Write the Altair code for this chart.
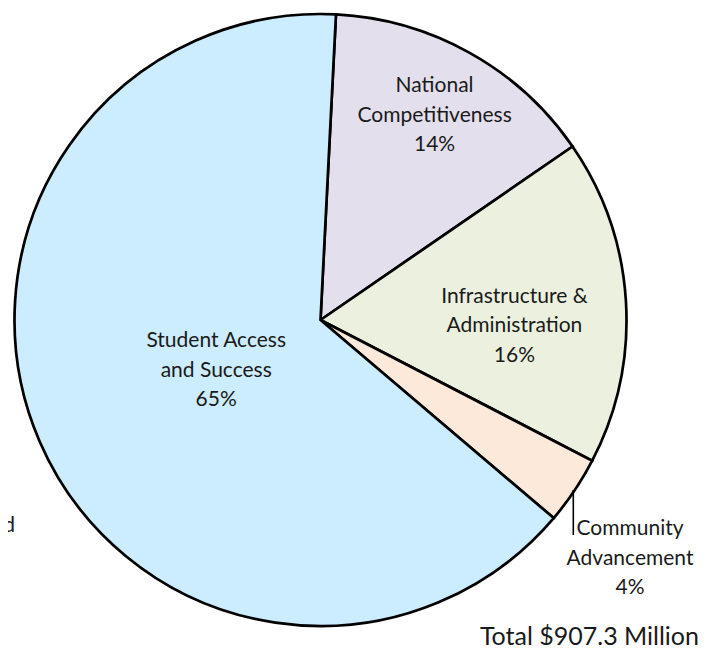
import math
import altair as alt
import pandas as pd

# ---- data ----
categories = ["National Competitiveness", "Infrastructure & Administration",
              "Community Advancement", "Student Access and Success"]
shares = [14.6, 17.2, 3.6, 64.6]          # measured slice sizes (%)
labels = ["National\nCompetitiveness\n14%", "Infrastructure &\nAdministration\n16%",
          "Community\nAdvancement\n4%", "Student Access\nand Success\n65%"]
colors = ["#E4DFEC", "#EBF1DE", "#FDE9D9", "#CCECFF"]
total_text = ["Total  $907.3 Million"]
clipped_texts = ["al", "nd"]

# ---- layout ----
CX, CY, R = 312.5, 312, 306
START = math.radians(2.9)
label_radius = [234, 194, 0, 116]
label_shift = [0, 1.5, 0, -0.72]     # angular nudge of label anchor (in share units)
outside = [False, False, True, False]

df = pd.DataFrame({
    "category": categories,
    "value": shares,
    "label": labels,
    "inlabel": ["" if o else l for l, o in zip(labels, outside)],
    "order": list(range(len(categories))),
    "lr": label_radius,
    "shift": label_shift,
})

tscale = alt.Scale(domain=[0, sum(shares)], range=[START, START + 2 * math.pi])

arcs = alt.Chart(df).mark_arc(outerRadius=R, stroke="black", strokeWidth=2.7).encode(
    theta=alt.Theta("value:Q", stack=True, scale=tscale),
    order=alt.Order("order:Q"),
    x=alt.value(CX), y=alt.value(CY),
    color=alt.Color("category:N", scale=alt.Scale(domain=categories, range=colors),
                    legend=None))

font = "Lato"
FS = 21
LH = 29.5
inside = alt.Chart(df).transform_window(
    cum="sum(value)", sort=[alt.SortField("order")]
).transform_calculate(
    mid="datum.cum - datum.value / 2 + datum.shift"
).mark_text(lineBreak="\n", font=font, fontSize=FS, color="#1a1a1a",
            lineHeight=LH, baseline="middle", dy=-LH).encode(
    theta=alt.Theta("mid:Q", stack=None, scale=tscale),
    radius=alt.Radius("lr:Q", scale=None),
    x=alt.value(CX), y=alt.value(CY),
    text="inlabel:N")

comm_df = pd.DataFrame({"label": [l for l, o in zip(labels, outside) if o]})
comm = alt.Chart(comm_df).mark_text(lineBreak="\n", font=font, fontSize=FS,
                                    color="#1a1a1a", lineHeight=LH, baseline="middle").encode(
    x=alt.value(622), y=alt.value(521), text="label:N")

leader = alt.Chart(comm_df).mark_rule(color="black", strokeWidth=1.6).encode(
    x=alt.value(565.3), y=alt.value(482), y2=alt.value(527))

tot = alt.Chart(pd.DataFrame({"t": total_text})).mark_text(
    font=font, fontSize=25, color="#1a1a1a", align="right", baseline="middle").encode(
    x=alt.value(691), y=alt.value(628.5), text="t:N")

clip_df = pd.DataFrame({"t": clipped_texts, "xx": [0.3, 7], "yy": [461, 518]})
clip = alt.Chart(clip_df).mark_text(font=font, fontSize=FS, color="#1a1a1a",
                                    align="right", baseline="middle").encode(
    x=alt.X("xx:Q", scale=None), y=alt.Y("yy:Q", scale=None), text="t:N")

chart = alt.layer(arcs, inside, comm, leader, tot, clip).properties(
    width=702, height=637, padding=0, autosize=alt.AutoSizeParams(type="none")
).configure_view(stroke=None)

chart.save("out.html", embed_options={"renderer": "svg", "actions": False})
